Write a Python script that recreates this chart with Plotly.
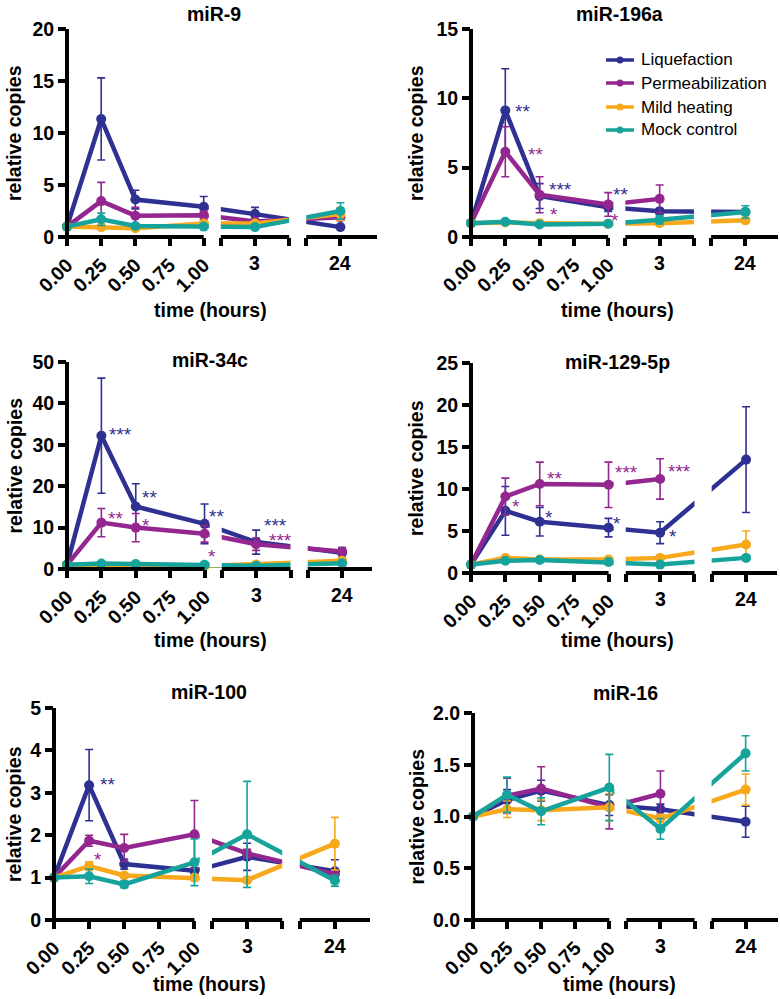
import plotly.graph_objects as go

W, H = 780, 999
FONT = "Liberation Sans, Arial, Helvetica, sans-serif"

series = ["Liquefaction", "Permeabilization", "Mild heating", "Mock control"]
colors = ["#2E3192", "#93278F", "#F7A81B", "#16A39C"]

times = [0, 0.25, 0.5, 1, 3, 24]
early_ticks = [0, 0.25, 0.5, 0.75, 1]
early_ticktext = ["0.00", "0.25", "0.50", "0.75", "1.00"]
late_ticks = [3, 24]


# broken time axis: 0-1 h is linear, 3 h and 24 h sit on their own short pieces
def tpos(t):
    if t <= 1:
        return t * 4
    return {3: 5.5, 24: 8.0}[t]


# mean relative copies, one list per series (order of `times`)
mir9_mean = {
    "Liquefaction": [1.0, 11.35, 3.6, 2.9, 2.2, 0.95],
    "Permeabilization": [1.0, 3.45, 2.05, 2.1, 1.5, 1.9],
    "Mild heating": [1.0, 0.95, 0.85, 1.3, 1.3, 2.2],
    "Mock control": [1.0, 1.7, 1.05, 1.0, 0.95, 2.5],
}
mir9_err = {
    "Liquefaction": [0, 3.95, 0.9, 1.0, 0.65, 0.1],
    "Permeabilization": [0, 1.8, 0.8, 0.4, 0.2, 0.3],
    "Mild heating": [0, 0.2, 0.15, 0.1, 0.15, 0.6],
    "Mock control": [0, 0.6, 0.2, 0.1, 0.1, 0.8],
}

mir196a_mean = {
    "Liquefaction": [1.0, 9.13, 2.95, 2.15, 1.85, 1.8],
    "Permeabilization": [1.0, 6.15, 3.05, 2.35, 2.75, None],
    "Mild heating": [1.0, 1.05, 1.0, 0.95, 1.0, 1.2],
    "Mock control": [1.0, 1.1, 0.9, 0.95, 1.25, 1.8],
}
mir196a_err = {
    "Liquefaction": [0, 3.0, 0.9, 0.3, 0.2, 0.1],
    "Permeabilization": [0, 1.8, 1.3, 0.85, 1.0, None],
    "Mild heating": [0, 0.1, 0.1, 0.05, 0.1, 0.1],
    "Mock control": [0, 0.1, 0.1, 0.05, 0.3, 0.45],
}

mir34c_mean = {
    "Liquefaction": [1.0, 32.2, 15.1, 10.9, 6.5, 3.9],
    "Permeabilization": [1.0, 11.2, 10.0, 8.5, 6.0, 4.2],
    "Mild heating": [1.0, 0.7, 0.6, 0.7, 1.1, 2.0],
    "Mock control": [1.0, 1.3, 1.2, 1.0, 0.8, 1.4],
}
mir34c_err = {
    "Liquefaction": [0, 13.9, 5.5, 4.8, 2.9, 1.3],
    "Permeabilization": [0, 3.4, 3.4, 2.0, 1.5, 0.5],
    "Mild heating": [0, 0.2, 0.2, 0.2, 0.3, 0.5],
    "Mock control": [0, 0.3, 0.3, 0.2, 0.2, 0.3],
}

mir129_mean = {
    "Liquefaction": [1.0, 7.4, 6.1, 5.4, 4.8, 13.5],
    "Permeabilization": [1.0, 9.1, 10.6, 10.5, 11.2, None],
    "Mild heating": [1.0, 1.8, 1.6, 1.6, 1.8, 3.4],
    "Mock control": [1.0, 1.45, 1.55, 1.3, 1.0, 1.8],
}
mir129_err = {
    "Liquefaction": [0, 2.9, 1.7, 1.1, 1.3, 6.3],
    "Permeabilization": [0, 2.2, 2.6, 2.7, 2.4, None],
    "Mild heating": [0, 0.2, 0.15, 0.15, 0.2, 1.6],
    "Mock control": [0, 0.15, 0.1, 0.1, 0.1, 0.2],
}

mir100_mean = {
    "Liquefaction": [1.0, 3.18, 1.32, 1.16, 1.49, 1.15],
    "Permeabilization": [1.0, 1.87, 1.7, 2.02, 1.57, 1.08],
    "Mild heating": [1.0, 1.27, 1.05, 1.0, 0.94, 1.8],
    "Mock control": [1.0, 1.03, 0.84, 1.36, 2.02, 0.93],
}
mir100_err = {
    "Liquefaction": [0, 0.84, 0.12, 0.06, 0.32, 0.27],
    "Permeabilization": [0, 0.13, 0.32, 0.8, 0.1, 0.05],
    "Mild heating": [0, 0.1, 0.05, 0.05, 0.05, 0.62],
    "Mock control": [0, 0.17, 0.08, 0.55, 1.25, 0.13],
}

mir16_mean = {
    "Liquefaction": [1.0, 1.16, 1.25, 1.11, 1.07, 0.95],
    "Permeabilization": [1.0, 1.2, 1.27, 1.09, 1.22, None],
    "Mild heating": [1.0, 1.07, 1.06, 1.09, 0.98, 1.26],
    "Mock control": [1.0, 1.21, 1.05, 1.28, 0.88, 1.61],
}
mir16_err = {
    "Liquefaction": [0, 0.1, 0.1, 0.1, 0.05, 0.15],
    "Permeabilization": [0, 0.17, 0.21, 0.21, 0.22, None],
    "Mild heating": [0, 0.08, 0.1, 0.13, 0.04, 0.15],
    "Mock control": [0, 0.17, 0.13, 0.32, 0.1, 0.17],
}

# significance labels: (series, x on broken axis, y, text)
mir196a_stars = [("Liquefaction", 1.51, 9.4, "**"), ("Permeabilization", 1.89, 6.3, "**"),
                 ("Liquefaction", 2.6, 3.8, "***"), ("Permeabilization", 2.41, 2.0, "*"),
                 ("Liquefaction", 4.36, 3.4, "**"), ("Permeabilization", 4.2, 1.55, "*")]
mir34c_stars = [("Liquefaction", 1.56, 33.8, "***"), ("Permeabilization", 1.41, 13.3, "**"),
                ("Permeabilization", 2.31, 11.8, "*"), ("Liquefaction", 2.39, 18.4, "**"),
                ("Liquefaction", 4.34, 13.9, "**"), ("Permeabilization", 4.21, 4.3, "*"),
                ("Liquefaction", 6.05, 11.8, "***"), ("Permeabilization", 6.2, 8.0, "***")]
mir129_stars = [("Permeabilization", 1.32, 8.5, "*"), ("Permeabilization", 2.42, 11.8, "**"),
                ("Permeabilization", 4.52, 12.6, "***"), ("Permeabilization", 6.05, 12.7, "***"),
                ("Liquefaction", 2.27, 7.2, "*"), ("Liquefaction", 4.25, 6.5, "*"),
                ("Liquefaction", 5.87, 4.9, "*")]
mir100_stars = [("Liquefaction", 1.51, 3.31, "**"), ("Permeabilization", 1.25, 1.55, "*")]

# box = (left px, right px, top px, bottom px) of each plot area
panels = [
    dict(title="miR-9", mean=mir9_mean, err=mir9_err, stars=[], ymax=20, dtick=5, fmt="d",
         box=(67, 377, 29, 237), xmax=9.07, title_xy=(214, 14), ytitle_x=14, xtitle_xy=(210, 310)),
    dict(title="miR-196a", mean=mir196a_mean, err=mir196a_err, stars=mir196a_stars, ymax=15, dtick=5, fmt="d",
         box=(471, 778, 29, 237), xmax=8.95, title_xy=(619, 14), ytitle_x=416, xtitle_xy=(617, 310)),
    dict(title="miR-34c", mean=mir34c_mean, err=mir34c_err, stars=mir34c_stars, ymax=50, dtick=10, fmt="d",
         box=(67, 372, 362, 569), xmax=8.87, title_xy=(210, 360), ytitle_x=14, xtitle_xy=(210, 640)),
    dict(title="miR-129-5p", mean=mir129_mean, err=mir129_err, stars=mir129_stars, ymax=25, dtick=5, fmt="d",
         box=(471, 777, 363, 573), xmax=8.9, title_xy=(617, 362), ytitle_x=416, xtitle_xy=(617, 640)),
    dict(title="miR-100", mean=mir100_mean, err=mir100_err, stars=mir100_stars, ymax=5, dtick=1, fmt="d",
         box=(54, 370, 708, 920), xmax=9.0, title_xy=(209, 692), ytitle_x=14, xtitle_xy=(209, 984)),
    dict(title="miR-16", mean=mir16_mean, err=mir16_err, stars=[], ymax=2, dtick=0.5, fmt=".1f",
         box=(473, 778, 713, 920), xmax=8.95, title_xy=(625, 693), ytitle_x=416, xtitle_xy=(619, 984)),
]


def px(x):
    return x / W


def py(y):
    return 1 - y / H


bold = dict(family=FONT, size=19.5, color="black", weight="bold")

fig = go.Figure()
layout = dict(width=W, height=H, margin=dict(l=0, r=0, t=0, b=0),
              paper_bgcolor="white", plot_bgcolor="white", showlegend=False)
shapes = []
annotations = []

for i, p in enumerate(panels, start=1):
    xa = "x" if i == 1 else "x%d" % i
    ya = "y" if i == 1 else "y%d" % i
    left, right, top, bottom = p["box"]
    xmax = p["xmax"]

    for name, col in zip(series, colors):
        fig.add_trace(go.Scatter(
            x=[tpos(t) for t in times], y=p["mean"][name],
            error_y=dict(type="data", array=p["err"][name], color=col, thickness=1.6, width=4),
            mode="lines+markers", name=name,
            line=dict(color=col, width=4.5), marker=dict(color=col, size=10),
            cliponaxis=False, xaxis=xa, yaxis=ya,
        ))

    tickvals = [tpos(t) for t in early_ticks] + [4.5, 5.5, 6.5, 7.0, 8.0]
    layout["xaxis" if i == 1 else "xaxis%d" % i] = dict(
        domain=[px(left), px(right)], anchor=ya, range=[0, xmax], automargin=False,
        showline=False, showgrid=False, zeroline=False,
        tickmode="array", tickvals=tickvals, ticktext=early_ticktext + [""] * 5,
        ticks="outside", ticklen=8, tickwidth=3.5, tickcolor="black",
        tickangle=-45, tickfont=bold,
    )
    layout["yaxis" if i == 1 else "yaxis%d" % i] = dict(
        domain=[py(bottom), py(top)], anchor=xa, range=[0, p["ymax"]], automargin=False,
        showline=False, showgrid=False, zeroline=False,
        dtick=p["dtick"], tick0=0, tickformat=p["fmt"],
        ticks="outside", ticklen=8, tickwidth=3.5, tickcolor="black", tickfont=bold,
    )

    def xpx(pos):
        return left + pos / xmax * (right - left)

    # white gaps where the time axis is broken
    for g0, g1 in [(4.15, 4.5), (6.5, 7.0)]:
        shapes.append(dict(type="rect", xref="paper", yref="paper", layer="above",
                           x0=px(xpx(g0)), x1=px(xpx(g1)), y0=py(bottom - 2), y1=py(top - 20),
                           fillcolor="white", line=dict(width=0)))
    # broken x axis and the y axis line
    for s0, s1 in [(0, 4), (4.5, 6.5), (7.0, xmax)]:
        shapes.append(dict(type="line", xref="paper", yref="paper", layer="above",
                           x0=px(xpx(s0) - (2 if s0 == 0 else 0)), x1=px(xpx(s1)),
                           y0=py(bottom), y1=py(bottom), line=dict(color="black", width=4)))
    shapes.append(dict(type="line", xref="paper", yref="paper", layer="above",
                       x0=px(left), x1=px(left), y0=py(bottom + 2), y1=py(top),
                       line=dict(color="black", width=4)))

    # labels for the late time points (kept upright)
    for t in late_ticks:
        annotations.append(dict(x=tpos(t), y=py(bottom + 13), xref=xa, yref="paper",
                                text=str(t), showarrow=False, xanchor="center", yanchor="top",
                                font=bold))

    annotations.append(dict(x=px(p["title_xy"][0]), y=py(p["title_xy"][1]), xref="paper", yref="paper",
                            text=p["title"], showarrow=False, xanchor="center", yanchor="middle", font=bold))
    annotations.append(dict(x=px(p["ytitle_x"]), y=py((top + bottom) / 2), xref="paper", yref="paper",
                            text="relative copies", textangle=-90, showarrow=False,
                            xanchor="center", yanchor="middle", font=bold))
    annotations.append(dict(x=px(p["xtitle_xy"][0]), y=py(p["xtitle_xy"][1]), xref="paper", yref="paper",
                            text="time (hours)", showarrow=False, xanchor="center", yanchor="middle", font=bold))

    for name, sx, sy, txt in p["stars"]:
        annotations.append(dict(x=sx, y=sy, xref=xa, yref=ya, text=txt, showarrow=False,
                                xanchor="center", yanchor="middle", yshift=-5,
                                font=dict(family=FONT, size=19, color=colors[series.index(name)])))

# legend drawn by hand inside the miR-196a panel
legend_rows = [60, 83, 107, 130]
for name, col, ry in zip(series, colors, legend_rows):
    shapes.append(dict(type="line", xref="paper", yref="paper", x0=px(606), x1=px(634),
                       y0=py(ry), y1=py(ry), line=dict(color=col, width=3.5)))
    shapes.append(dict(type="circle", xref="paper", yref="paper", x0=px(616.5), x1=px(623.5),
                       y0=py(ry + 3.5), y1=py(ry - 3.5), fillcolor=col, line=dict(width=0)))
    annotations.append(dict(x=px(639), y=py(ry), xref="paper", yref="paper", text=name,
                            showarrow=False, xanchor="left", yanchor="middle",
                            font=dict(family=FONT, size=17, color="black")))

layout["shapes"] = shapes
layout["annotations"] = annotations
fig.update_layout(**layout)

# drop the browser's default body margin so the figure fills the window exactly
fig.write_html("out.html", config={"displayModeBar": False},
               post_script="document.body.style.margin = '0';")
